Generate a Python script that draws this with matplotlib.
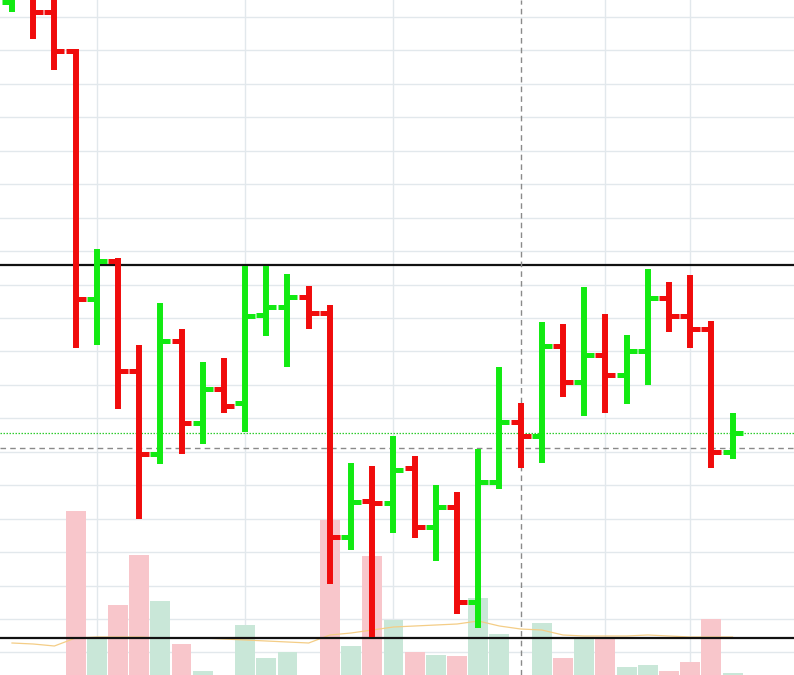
import matplotlib.pyplot as plt
import numpy as np

# OHLC bars
opens = [59.45, 59.81, 59.15, 57.98, 50.57, 51.70, 48.42, 45.93, 49.31, 46.86,
         47.88, 47.46, 50.09, 50.33, 50.63, 50.15, 43.45, 44.53, 44.47, 45.52,
         43.75, 44.35, 41.51, 45.10, 46.89, 46.47, 49.16, 48.09, 48.89, 48.30,
         49.01, 50.60, 50.06, 49.67, 45.99]
highs = [60.25, 60.10, 59.75, 58.04, 52.06, 51.79, 49.19, 50.45, 49.67, 48.68,
         48.80, 51.55, 51.55, 51.32, 50.96, 50.39, 45.67, 45.58, 46.47, 45.87,
         45.01, 44.80, 46.08, 48.54, 47.46, 49.88, 49.82, 50.93, 50.12, 49.49,
         51.47, 51.08, 51.29, 49.91, 47.16]
lows = [59.15, 58.34, 57.41, 49.10, 49.19, 47.28, 43.99, 45.64, 45.93, 46.23,
        47.16, 46.59, 49.46, 48.54, 49.67, 42.05, 43.06, 40.46, 43.57, 43.42,
        42.74, 41.15, 40.73, 44.89, 45.52, 45.67, 47.64, 47.07, 47.16, 47.43,
        48.00, 49.58, 49.10, 45.52, 45.78]
closes = [59.96, 59.15, 57.98, 50.57, 51.70, 48.42, 45.93, 49.31, 46.86, 47.88,
          47.37, 50.06, 50.33, 50.63, 50.15, 43.45, 44.50, 44.47, 45.46, 43.75,
          44.35, 41.51, 45.10, 46.89, 46.47, 49.16, 48.09, 48.89, 48.30, 49.01,
          50.60, 50.06, 49.67, 45.99, 46.56]
volume = [0, 0, 0, 164, 37, 70, 120, 74, 31, 4,
          0, 50, 17, 23, 0, 155, 29, 119, 55, 23,
          20, 19, 77, 41, 0, 52, 17, 37, 37, 8,
          10, 4, 13, 56, 2]
volume_ma = [32, 31, 29, 37, 38, 38, 38, 37, 37, 37,
             36, 35, 34, 33, 32, 40, 42, 45, 48, 49,
             50, 51, 54, 49, 46, 45, 40, 39, 39, 39,
             40, 39, 38, 38, 38]

resistance = 51.58
support = 40.44
last_price = 46.56
cross_price = 46.11
cross_bar = 24
week_starts = [4, 11, 18, 28, 32]

RED = '#f00c0c'
GREEN = '#12ea12'

x = np.arange(len(opens))
up = np.array(closes) >= np.array(opens)
colors = [GREEN if u else RED for u in up]

fig = plt.figure(figsize=(7.94, 6.75), dpi=100)
ax_bg = fig.add_axes([0, 0, 1, 1])
axv = fig.add_axes([0, 0, 1, 1], label='vol')
ax = fig.add_axes([0, 0, 1, 1], label='price')

xlim = (-0.566, 36.9)
ylim = (39.327, 59.507)

# background grid
ax_bg.set_xlim(xlim)
ax_bg.set_ylim(ylim)
for p in range(40, 60):
    ax_bg.axhline(p, color='#e2e8ec', lw=1)
for w in week_starts:
    ax_bg.axvline(w, color='#e2e8ec', lw=1)

# volume
axv.patch.set_visible(False)
axv.set_xlim(xlim)
axv.set_ylim(0, 675)
vcol = ['#c9e7d8' if u else '#f8c6cb' for u in up]
axv.bar(x, volume, width=0.94, color=vcol, edgecolor='none')
axv.plot(x, volume_ma, color='#f4cd86', lw=0.9)

# price bars
ax.patch.set_visible(False)
ax.set_xlim(xlim)
ax.set_ylim(ylim)
ax.axhline(resistance, color='#111111', lw=1.6)
ax.axhline(support, color='#111111', lw=1.6)
ax.axhline(last_price, color='#2ecc2e', lw=0.9, ls=(0, (1.2, 1.2)))
ax.axhline(cross_price, color='#8a8a8a', lw=1, ls=(0, (4, 3)))
ax.axvline(cross_bar, color='#8a8a8a', lw=1, ls=(0, (4, 3)))

ax.vlines(x, lows, highs, colors=colors, lw=4.3, capstyle='butt')
ax.hlines(opens, x - 0.47, x, colors=colors, lw=3.6, capstyle='butt')
ax.hlines(closes, x, x + 0.47, colors=colors, lw=3.6, capstyle='butt')

for a in (ax_bg, axv, ax):
    a.set_axis_off()

plt.savefig('out.png', dpi=100)
